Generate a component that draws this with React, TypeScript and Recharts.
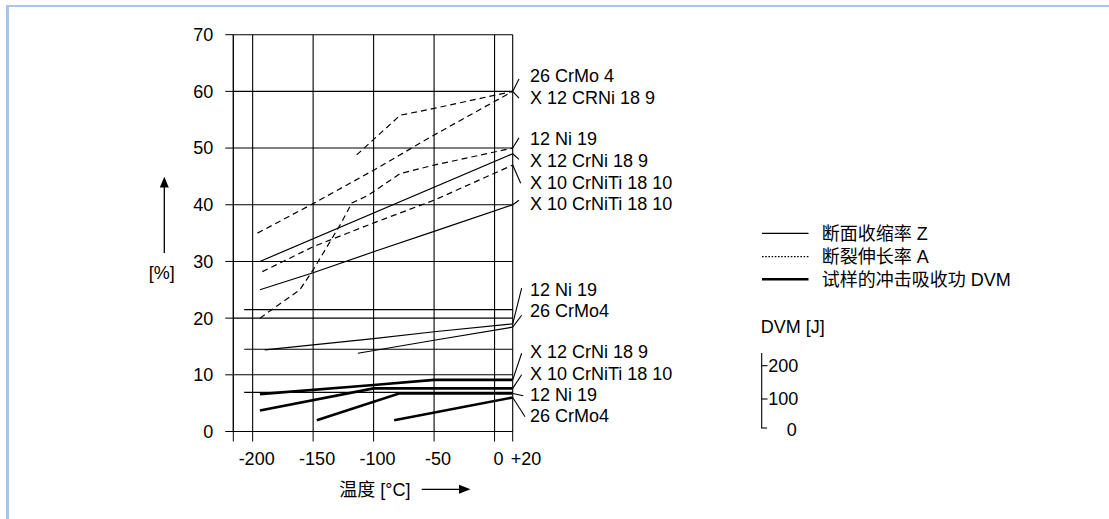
import React from 'react';
import {
  LineChart,
  Line,
  XAxis,
  YAxis,
  CartesianGrid,
  ReferenceLine,
  ReferenceDot,
} from 'recharts';

const FONT = '"Liberation Sans", Arial, "Noto Sans CJK SC", sans-serif';
const INK = '#000';

// ---- axes ----
// Temperature axis in °C. The right edge of the grid carries the "+20" label.
const X_LEFT = -216;
const X_EDGE = 15;
const xTicks = [X_LEFT, -200, -150, -100, -50, 0, X_EDGE];
const xTickLabels = ['', '-200', '-150', '-100', '-50', '0', '+20'];
const yTicks = [0, 10, 20, 30, 40, 50, 60, 70];

// ---- 断面收缩率 Z (thin solid) ----
const zX12CrNi = [
  { t: -194, v: 30 },
  { t: 15, v: 49 },
];
const zX10CrNiTi = [
  { t: -194, v: 25 },
  { t: -150, v: 28 },
  { t: -100, v: 31.7 },
  { t: -50, v: 35.3 },
  { t: 15, v: 40 },
];
const z12Ni19 = [
  { t: -190, v: 14.4 },
  { t: -100, v: 16.4 },
  { t: -50, v: 17.6 },
  { t: 15, v: 19 },
];
const z26CrMo4 = [
  { t: -113, v: 13.8 },
  { t: -50, v: 16.1 },
  { t: 15, v: 18.4 },
];

// ---- 断裂伸长率 A (dashed) ----
const a26CrMo4 = [
  { t: -114, v: 48.8 },
  { t: -78, v: 55.8 },
  { t: -50, v: 57 },
  { t: 15, v: 60 },
];
const aX12CrNi = [
  { t: -196, v: 35 },
  { t: -150, v: 40.2 },
  { t: -100, v: 46.1 },
  { t: -50, v: 52.3 },
  { t: 15, v: 60 },
];
const a12Ni19 = [
  { t: -194, v: 20 },
  { t: -161, v: 25 },
  { t: -150, v: 28.5 },
  { t: -127, v: 36.7 },
  { t: -118, v: 40.3 },
  { t: -105, v: 41.6 },
  { t: -78, v: 45.5 },
  { t: -50, v: 47 },
  { t: 15, v: 50 },
];
const aX10CrNiTi = [
  { t: -192, v: 28.2 },
  { t: -150, v: 32.6 },
  { t: -100, v: 36.8 },
  { t: -50, v: 40.8 },
  { t: 15, v: 47 },
];

// ---- 试样的冲击吸收功 DVM (thick solid) ----
const dX12CrNi = [
  { t: -194, v: 6.6 },
  { t: -100, v: 8.2 },
  { t: -50, v: 9.1 },
  { t: 15, v: 9.1 },
];
const dX10CrNiTi = [
  { t: -194, v: 3.7 },
  { t: -100, v: 7.6 },
  { t: 15, v: 7.6 },
];
const d12Ni19 = [
  { t: -147, v: 2.0 },
  { t: -79, v: 6.7 },
  { t: 15, v: 6.7 },
];
const d26CrMo4 = [
  { t: -83, v: 2.0 },
  { t: 15, v: 6.0 },
];

// thin horizontal base lines
const baseLevels = [21.5, 14.5, 6.9];
const baseStart = -207;

// material labels
const labelText = [
  '26 CrMo 4',
  'X 12 CRNi 18 9',
  '12 Ni 19',
  'X 12 CrNi 18 9',
  'X 10 CrNiTi 18 10',
  'X 10 CrNiTi 18 10',
  '12 Ni 19',
  '26 CrMo4',
  'X 12 CrNi 18 9',
  'X 10 CrNiTi 18 10',
  '12 Ni 19',
  '26 CrMo4',
];
const labelFrom = [60, 60, 50, 49, 47, 40, 19, 18.4, 9.1, 7.6, 6.7, 6.0];
const leaderEndT = [20.2, 20.2, 20.2, 20.2, 21.6, 20.2, 22.4, 22.4, 22.4, 22.4, 23.8, 25.2];
const leaderEndV = [62.2, 58.8, 51.8, 48.0, 43.8, 40.8, 25.3, 20.5, 13.8, 10.0, 6.3, 2.6];
const labelV = [62.75, 58.94, 51.6, 47.8, 43.9, 40.2, 25.1, 21.4, 14.1, 10.3, 6.6, 2.8];
const LABEL_T = 29.3;

const legendItems = ['断面收缩率 Z', '断裂伸长率 A', '试样的冲击吸收功 DVM'];
const dvmTicks = ['200', '100', '0'];

const XTick = (props: any) => {
  const { x, y, payload } = props;
  const i = xTicks.indexOf(payload.value);
  const label = i >= 0 ? xTickLabels[i] : '';
  if (!label) return null;
  const isEdge = payload.value === X_EDGE;
  return (
    <text
      x={isEdge ? x - 2 : x + 4}
      y={y}
      dy="0.71em"
      textAnchor={isEdge ? 'start' : 'middle'}
      fontSize={18}
      fontFamily={FONT}
      fill="#000"
    >
      {label}
    </text>
  );
};

const makeLabel = (text: string) => (p: any) => {
  const vb = p.viewBox || {};
  return (
    <text
      x={vb.x}
      y={vb.y}
      dy="0.36em"
      fontSize={18}
      fontFamily={FONT}
      fill="#000"
    >
      {text}
    </text>
  );
};

const thin = { stroke: INK, strokeWidth: 1.2 };
const series = [
  { data: zX12CrNi, ...thin },
  { data: zX10CrNiTi, ...thin },
  { data: z12Ni19, ...thin },
  { data: z26CrMo4, ...thin },
  { data: a26CrMo4, ...thin, dash: '6 4' },
  { data: aX12CrNi, ...thin, dash: '6 4' },
  { data: a12Ni19, ...thin, dash: '6 4' },
  { data: aX10CrNiTi, ...thin, dash: '6 4' },
  { data: dX12CrNi, stroke: INK, strokeWidth: 2.6 },
  { data: dX10CrNiTi, stroke: INK, strokeWidth: 2.6 },
  { data: d12Ni19, stroke: INK, strokeWidth: 2.6 },
  { data: d26CrMo4, stroke: INK, strokeWidth: 2.6 },
];

export default function App() {
  return (
    <div
      style={{
        position: 'absolute',
        left: 0,
        top: 0,
        width: 1109,
        height: 519,
        background: '#fff',
        overflow: 'hidden',
        fontFamily: FONT,
      }}
    >
      <div
        style={{
          position: 'absolute',
          left: 6,
          top: 5,
          right: 0,
          bottom: 0,
          borderTop: '2px solid #a9c5ec',
          borderLeft: '3px solid #a9c5ec',
        }}
      />
      <div style={{ position: 'absolute', left: 0, top: 0 }}>
        <LineChart
          width={1109}
          height={519}
          margin={{ top: 34.7, right: 596.3, bottom: 57.5, left: 173.3 }}
        >
          <CartesianGrid stroke={INK} strokeWidth={1.1} />
          <XAxis
            dataKey="t"
            type="number"
            domain={[X_LEFT, X_EDGE]}
            ticks={xTicks}
            interval={0}
            allowDataOverflow
            height={30}
            tickSize={10}
            tickMargin={10.5}
            tickLine={{ stroke: INK }}
            axisLine={{ stroke: INK }}
            tick={<XTick />}
          />
          <YAxis
            type="number"
            domain={[0, 70]}
            ticks={yTicks}
            interval={0}
            width={60}
            tickSize={8}
            tickMargin={12}
            tickLine={{ stroke: INK }}
            axisLine={{ stroke: INK }}
            tick={{ fill: '#000', fontSize: 18, fontFamily: FONT }}
          />
          {baseLevels.map((lv, i) => (
            <ReferenceLine
              key={'b' + i}
              segment={[
                { x: baseStart, y: lv },
                { x: X_EDGE, y: lv },
              ]}
              stroke={INK}
              strokeWidth={1.1}
              ifOverflow="visible"
            />
          ))}
          {series.map((s: any, i) => (
            <Line
              key={'s' + i}
              data={s.data}
              dataKey="v"
              type="linear"
              stroke={s.stroke}
              strokeWidth={s.strokeWidth}
              strokeDasharray={s.dash}
              dot={false}
              activeDot={false}
              isAnimationActive={false}
            />
          ))}
          {labelText.map((txt, i) => (
            <ReferenceLine
              key={'l' + i}
              segment={[
                { x: X_EDGE, y: labelFrom[i] },
                { x: leaderEndT[i], y: leaderEndV[i] },
              ]}
              stroke={INK}
              strokeWidth={1.1}
              ifOverflow="visible"
            />
          ))}
          {labelText.map((txt, i) => (
            <ReferenceDot
              key={'d' + i}
              x={LABEL_T}
              y={labelV[i]}
              r={0}
              fill="none"
              stroke="none"
              ifOverflow="visible"
              label={makeLabel(txt)}
            />
          ))}
        </LineChart>
      </div>
      <svg
        width={1109}
        height={519}
        style={{ position: 'absolute', left: 0, top: 0, pointerEvents: 'none' }}
      >
        {/* y axis title with arrow */}
        <line x1={164.3} y1={253} x2={164.3} y2={186} stroke={INK} strokeWidth={1.3} />
        <polygon points="164.3,176.7 159.8,187.5 168.8,187.5" fill={INK} />
        <text x={161.7} y={273} dy="0.36em" textAnchor="middle" fontSize={18} fontFamily={FONT} fill="#000">
          [%]
        </text>
        {/* x axis title with arrow */}
        <text x={339.3} y={490} dy="0.36em" fontSize={18} fontFamily={FONT} fill="#000">
          温度 [°C]
        </text>
        <line x1={421.7} y1={489.3} x2={460} y2={489.3} stroke={INK} strokeWidth={1.3} />
        <polygon points="470.5,489.3 459,484.8 459,493.8" fill={INK} />
        {/* legend */}
        <line x1={762} y1={233.3} x2={808.5} y2={233.3} stroke={INK} strokeWidth={1.2} />
        <line x1={762} y1={256.7} x2={808.5} y2={256.7} stroke={INK} strokeWidth={1.2} strokeDasharray="1.6 1.6" />
        <line x1={762} y1={279.3} x2={808.5} y2={279.3} stroke={INK} strokeWidth={2.6} />
        {legendItems.map((t, i) => (
          <text
            key={t}
            x={821.7}
            y={[233.3, 256.7, 279.3][i]}
            dy="0.36em"
            fontSize={18}
            fontFamily={FONT}
            fill="#000"
          >
            {t}
          </text>
        ))}
        {/* DVM scale */}
        <text x={760.7} y={326.7} dy="0.36em" fontSize={18} fontFamily={FONT} fill="#000">
          DVM [J]
        </text>
        <line x1={761.7} y1={353} x2={761.7} y2={428} stroke={INK} strokeWidth={1.1} />
        <line x1={761.7} y1={365.7} x2={767.5} y2={365.7} stroke={INK} strokeWidth={1.1} />
        <line x1={761.7} y1={399} x2={767.5} y2={399} stroke={INK} strokeWidth={1.1} />
        <line x1={761.2} y1={428} x2={767} y2={428} stroke={INK} strokeWidth={1.1} />
        <text x={768.3} y={365.7} dy="0.36em" fontSize={18} fontFamily={FONT} fill="#000">
          {dvmTicks[0]}
        </text>
        <text x={768.3} y={399} dy="0.36em" fontSize={18} fontFamily={FONT} fill="#000">
          {dvmTicks[1]}
        </text>
        <text x={786.7} y={430} dy="0.36em" fontSize={18} fontFamily={FONT} fill="#000">
          {dvmTicks[2]}
        </text>
      </svg>
    </div>
  );
}
